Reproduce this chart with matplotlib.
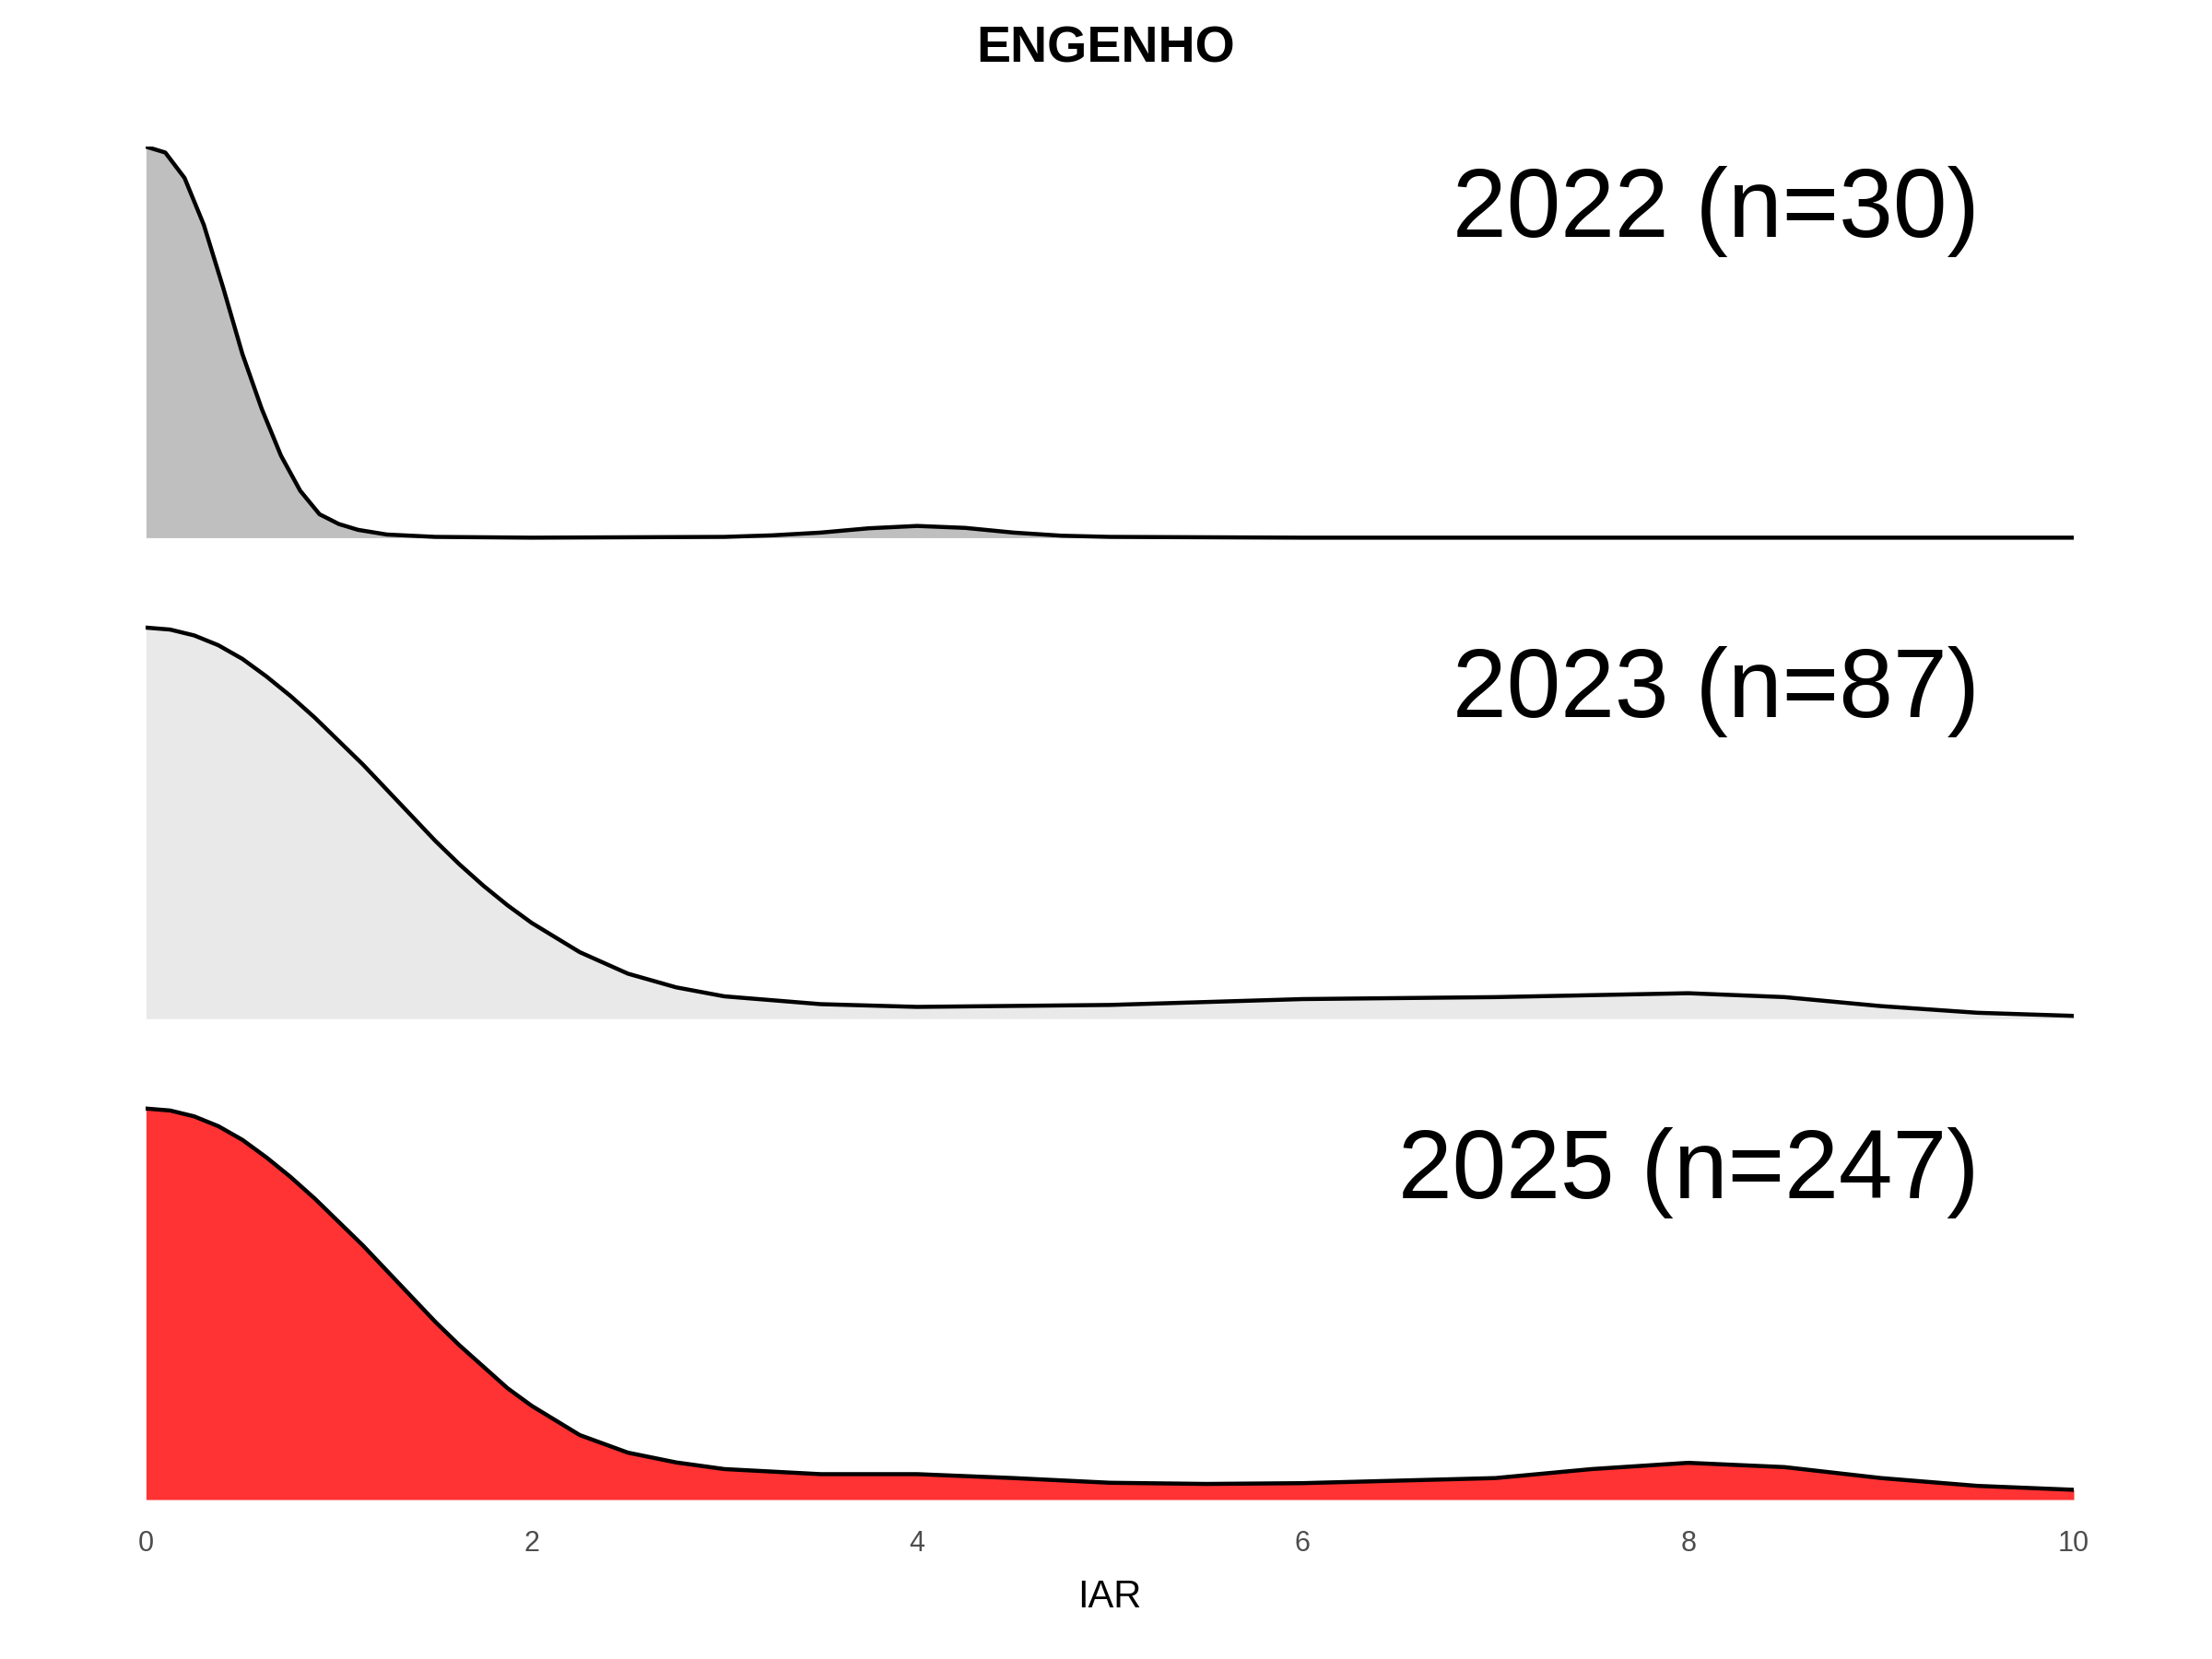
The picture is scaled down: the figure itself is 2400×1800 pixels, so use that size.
import numpy as np
import matplotlib
matplotlib.use("Agg")
import matplotlib.pyplot as plt

plt.rcParams["font.family"] = ["Liberation Sans", "DejaVu Sans"]

# densities, each scaled so its peak = 1
x_2022 = [0, 0.1, 0.2, 0.3, 0.4, 0.5, 0.6, 0.7, 0.8, 0.9, 1.0, 1.1, 1.25, 1.5, 2.0,
          3.0, 3.25, 3.5, 3.75, 4.0, 4.25, 4.5, 4.75, 5.0, 6.0, 8.0, 10.0]
d_2022 = [1.0, 0.985, 0.92, 0.80, 0.64, 0.47, 0.33, 0.21, 0.12, 0.06, 0.035, 0.02, 0.008, 0.002, 0.0,
          0.002, 0.006, 0.013, 0.024, 0.03, 0.025, 0.013, 0.005, 0.002, 0.0, 0.0, 0.0]

x_2023 = [0, 0.125, 0.25, 0.375, 0.5, 0.625, 0.75, 0.875, 1.0, 1.125, 1.25, 1.375, 1.5, 1.625,
          1.75, 1.875, 2.0, 2.25, 2.5, 2.75, 3.0, 3.5, 4.0, 5.0, 6.0, 7.0, 8.0, 8.5, 9.0, 9.5, 10.0]
d_2023 = [1.0, 0.995, 0.98, 0.955, 0.92, 0.875, 0.825, 0.77, 0.71, 0.65, 0.585, 0.52, 0.455, 0.395,
          0.34, 0.29, 0.245, 0.17, 0.115, 0.08, 0.057, 0.037, 0.03, 0.035, 0.05, 0.055, 0.065, 0.055, 0.032, 0.015, 0.007]

x_2025 = [0, 0.125, 0.25, 0.375, 0.5, 0.625, 0.75, 0.875, 1.0, 1.125, 1.25, 1.375, 1.5, 1.625,
          1.75, 1.875, 2.0, 2.25, 2.5, 2.75, 3.0, 3.5, 4.0, 4.5, 5.0, 5.5, 6.0, 7.0, 7.5, 8.0,
          8.5, 9.0, 9.5, 10.0]
d_2025 = [1.0, 0.995, 0.98, 0.955, 0.92, 0.875, 0.825, 0.77, 0.71, 0.65, 0.585, 0.52, 0.455, 0.395,
          0.34, 0.285, 0.24, 0.165, 0.12, 0.095, 0.078, 0.065, 0.065, 0.055, 0.043, 0.04, 0.042, 0.055,
          0.078, 0.094, 0.083, 0.055, 0.035, 0.025]

labels = ["2022 (n=30)", "2023 (n=87)", "2025 (n=247)"]
colors = ["#bfbfbf", "#e9e9e9", "#ff3333"]
series = [(x_2022, d_2022), (x_2023, d_2023), (x_2025, d_2025)]
offsets = [2.46, 1.23, 0.0]

fig = plt.figure(figsize=(12, 9), dpi=200)
ax = fig.add_axes([0.066, 0.0961, 0.8715, 0.8155])

for (xs, ds), lab, col, off in zip(series, labels, colors, offsets):
    xs = np.asarray(xs)
    ds = np.asarray(ds)
    ax.fill_between(xs, off, off + ds, color=col, lw=0)
    ax.plot(xs, off + ds, color="black", lw=1.6, solid_joinstyle="round")
    ax.text(9.51, off + 0.835, lab, ha="right", va="center", fontsize=38)

ax.set_xlim(0, 10)
ax.set_ylim(0, 3.46)
ax.set_xticks([0, 2, 4, 6, 8, 10])
ax.tick_params(axis="x", length=0, labelsize=11, labelcolor="#4d4d4d", pad=12)
ax.set_yticks([])
for s in ax.spines.values():
    s.set_visible(False)
ax.set_xlabel("IAR", fontsize=15, labelpad=8)
fig.suptitle("ENGENHO", fontsize=20, fontweight="bold", y=0.985)

fig.savefig("out.png", dpi=200, facecolor="white")
